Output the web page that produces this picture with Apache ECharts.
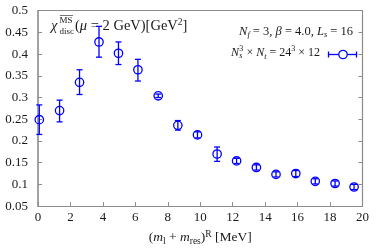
<!DOCTYPE html>
<html>
<head>
<meta charset="utf-8">
<script src="https://cdn.jsdelivr.net/npm/echarts@6/dist/echarts.min.js"></script>
<style>html,body{margin:0;padding:0;background:#fff}#c{width:381px;height:251px}</style>
</head>
<body>
<div id="c"></div>
<script>
var xVals = [0.08, 1.33, 2.56, 3.76, 4.96, 6.16, 7.41, 8.62, 9.83, 11.04, 12.24, 13.46, 14.67, 15.89, 17.09, 18.31, 19.48];
var yVals = [0.249, 0.270, 0.335, 0.428, 0.402, 0.364, 0.304, 0.236, 0.214, 0.170, 0.154, 0.139, 0.123, 0.125, 0.107, 0.102, 0.094];
var yLow  = [0.215, 0.244, 0.307, 0.393, 0.376, 0.338, 0.300, 0.225, 0.207, 0.153, 0.148, 0.133, 0.117, 0.118, 0.101, 0.096, 0.088];
var yHigh = [0.283, 0.294, 0.364, 0.464, 0.428, 0.388, 0.308, 0.247, 0.221, 0.186, 0.160, 0.145, 0.129, 0.132, 0.113, 0.108, 0.100];
var xTicks = [0, 2, 4, 6, 8, 10, 12, 14, 16, 18, 20];
var yTicks = [0.05, 0.1, 0.15, 0.2, 0.25, 0.3, 0.35, 0.4, 0.45, 0.5];

var FONT = '"Liberation Serif", "DejaVu Serif", serif';
var BLUE = '#0000ff';
var FRAME = '#8c8c8c';
var TXT = '#1a1a1a';

var data = xVals.map(function (x, i) { return [x, yVals[i], yLow[i], yHigh[i]]; });

function fmt(v) { return String(Math.round(v * 100) / 100); }

var chart = echarts.init(document.getElementById('c'), null, {renderer: 'canvas'});

var axisLbl = {fontFamily: FONT, fontSize: 13, color: TXT};

function t(txt, x, y, size, italic) {
  return {type: 'text', x: x, y: y, style: {text: txt, fontFamily: FONT, fontSize: size, fontStyle: italic ? 'italic' : 'normal', fill: TXT, textVerticalAlign: 'middle'}};
}

var option = {
  animation: false,
  backgroundColor: '#fff',
  grid: {left: 38, right: 18.5, top: 10.7, bottom: 33.3, containLabel: false},
  xAxis: [{
    type: 'value', min: xTicks[0], max: xTicks[xTicks.length - 1], interval: 2,
    axisLine: {show: true, lineStyle: {color: FRAME, width: 1.2}},
    axisTick: {show: true, inside: true, length: 4, lineStyle: {color: FRAME}},
    splitLine: {show: false},
    axisLabel: Object.assign({margin: 5, formatter: fmt}, axisLbl),
    name: '{p|(}{i|m}{s|l}{p| + }{i|m}{s|res}{p|)}{u|R}{p| [MeV]}',
    nameLocation: 'middle', nameGap: 22,
    nameTextStyle: {
      fontFamily: FONT, fontSize: 13.5, color: TXT,
      rich: {
        p: {fontFamily: FONT, fontSize: 13.5, color: TXT, lineHeight: 17},
        i: {fontFamily: FONT, fontSize: 13.5, fontStyle: 'italic', color: TXT, lineHeight: 17},
        s: {fontFamily: FONT, fontSize: 9.5, color: TXT, verticalAlign: 'bottom', lineHeight: 9},
        u: {fontFamily: FONT, fontSize: 9.5, color: TXT, verticalAlign: 'top', lineHeight: 9}
      }
    }
  }, {
    type: 'value', position: 'top', min: 0, max: 20, interval: 2,
    axisLine: {show: true, onZero: false, lineStyle: {color: FRAME, width: 1.2}},
    axisTick: {show: false}, axisLabel: {show: false}, splitLine: {show: false}
  }],
  yAxis: [{
    type: 'value', min: yTicks[0], max: yTicks[yTicks.length - 1], interval: 0.05,
    axisLine: {show: true, onZero: false, lineStyle: {color: FRAME, width: 1.6}},
    axisTick: {show: true, inside: true, length: 4, lineStyle: {color: FRAME}},
    splitLine: {show: false},
    axisLabel: Object.assign({margin: 10, formatter: fmt}, axisLbl)
  }, {
    type: 'value', position: 'right', min: 0.05, max: 0.5, interval: 0.05,
    axisLine: {show: true, onZero: false, lineStyle: {color: FRAME, width: 1.2}},
    axisTick: {show: true, inside: true, length: 4, lineStyle: {color: FRAME}},
    axisLabel: {show: false}, splitLine: {show: false}
  }],
  series: [{
    type: 'custom',
    name: 'data',
    clip: false,
    data: data,
    renderItem: function (params, api) {
      var c = api.coord([api.value(0), api.value(1)]);
      var lo = api.coord([api.value(0), api.value(2)]);
      var hi = api.coord([api.value(0), api.value(3)]);
      var cap = 3;
      var ls = {stroke: BLUE, lineWidth: 1.3, fill: null};
      return {
        type: 'group',
        children: [
          {type: 'line', shape: {x1: c[0], y1: lo[1], x2: c[0], y2: hi[1]}, style: ls},
          {type: 'line', shape: {x1: c[0] - cap, y1: lo[1], x2: c[0] + cap, y2: lo[1]}, style: ls},
          {type: 'line', shape: {x1: c[0] - cap, y1: hi[1], x2: c[0] + cap, y2: hi[1]}, style: ls},
          {type: 'circle', shape: {cx: c[0], cy: c[1], r: 4.2}, style: {stroke: BLUE, lineWidth: 1.3, fill: 'none'}}
        ]
      };
    }
  }],
  graphic: [
    // quantity label inside plot
    {type: 'group', left: 51, top: 13, children: [
      t('χ', 0, 12, 14.5, true),
      t('MS', 8.5, 7, 9, false),
      {type: 'line', shape: {x1: 8.8, y1: 1.5, x2: 22, y2: 1.5}, style: {stroke: TXT, lineWidth: 0.6}},
      t('disc', 8.5, 17.5, 9, false),
      {type: 'text', x: 24, y: 12, style: {
        text: '{p|(}{i|μ}{p| = 2 GeV)[GeV}{u|2}{p|]}', textVerticalAlign: 'middle',
        rich: {
          p: {fontFamily: FONT, fontSize: 14.5, fill: TXT, lineHeight: 18},
          i: {fontFamily: FONT, fontSize: 14.5, fontStyle: 'italic', fill: TXT, lineHeight: 18},
          u: {fontFamily: FONT, fontSize: 9.5, fill: TXT, verticalAlign: 'top', lineHeight: 9}
        }
      }}
    ]},
    // legend line 1
    {type: 'text', right: 28, top: 25,
      style: {
        text: '{i|N}{s|f}{p| = 3, }{i|β}{p| = 4.0, }{i|L}{s|s}{p| = 16}',
        rich: {
          p: {fontFamily: FONT, fontSize: 12.5, fill: TXT, lineHeight: 16},
          i: {fontFamily: FONT, fontSize: 12.5, fontStyle: 'italic', fill: TXT, lineHeight: 16},
          s: {fontFamily: FONT, fontSize: 8.5, fontStyle: 'italic', fill: TXT, verticalAlign: 'bottom', lineHeight: 8}
        }
      }
    },
    // legend line 2
    {type: 'group', right: 61, top: 44.5, children: [
      t('N', 0, 8, 12, true),
      t('3', 8.2, 4, 8, false),
      t('s', 8.2, 11.5, 8, true),
      {type: 'text', x: 12.5, y: 8, style: {
        text: '{p| × }{i|N}{s|t}{p| = 24}{u|3}{p| × 12}', textVerticalAlign: 'middle',
        rich: {
          p: {fontFamily: FONT, fontSize: 12, fill: TXT, lineHeight: 16},
          i: {fontFamily: FONT, fontSize: 12, fontStyle: 'italic', fill: TXT, lineHeight: 16},
          s: {fontFamily: FONT, fontSize: 8, fontStyle: 'italic', fill: TXT, verticalAlign: 'bottom', lineHeight: 8},
          u: {fontFamily: FONT, fontSize: 8, fill: TXT, verticalAlign: 'top', lineHeight: 8}
        }
      }}
    ]},
    {type: 'group', left: 326, top: 49, children: [
      {type: 'line', shape: {x1: 0.5, y1: 3.5, x2: 28.5, y2: 3.5}, style: {stroke: BLUE, lineWidth: 1.3}},
      {type: 'line', shape: {x1: 0.5, y1: 0.5, x2: 0.5, y2: 6.5}, style: {stroke: BLUE, lineWidth: 1.3}},
      {type: 'line', shape: {x1: 28.5, y1: 0.5, x2: 28.5, y2: 6.5}, style: {stroke: BLUE, lineWidth: 1.3}},
      {type: 'circle', shape: {cx: 15, cy: 3.5, r: 4.2}, style: {stroke: BLUE, lineWidth: 1.3, fill: '#fff'}}
    ]}
  ]
};
chart.setOption(option);
</script>
</body>
</html>
